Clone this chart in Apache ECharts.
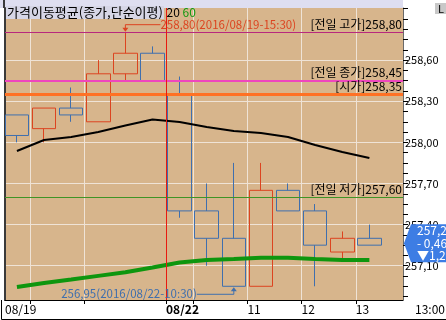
<!DOCTYPE html>
<html><head><meta charset="utf-8">
<script src="https://cdn.jsdelivr.net/npm/echarts@6/dist/echarts.min.js"></script>
<style>html,body{margin:0;padding:0;background:#fff;}#c{width:446px;height:320px;}</style>
</head><body><div id="c"></div>
<script>
// ---- data ----
const year = '2016';
const times = ['08/19 13:30','08/19 14:00','08/19 14:30','08/19 15:00','08/19 15:30','08/19 15:45',
               '08/22 09:30','08/22 10:00','08/22 10:30','08/22 11:00','08/22 11:30','08/22 12:00','08/22 12:30','08/22 13:00'];
const opens  = [258.20,258.10,258.25,258.15,258.50,258.65,258.35,257.50,257.30,256.95,257.65,257.50,257.20,257.30];
const closes = [258.05,258.25,258.20,258.50,258.65,258.45,257.50,257.30,256.95,257.65,257.50,257.25,257.30,257.25];
const lows   = [258.00,258.00,258.15,258.15,258.45,258.45,257.45,257.10,256.95,256.95,257.50,256.95,257.15,257.25];
const highs  = [258.20,258.25,258.40,258.60,258.80,258.70,258.48,257.70,257.85,257.85,257.70,257.55,257.35,257.40];
const ma20   = [257.937,258.017,258.039,258.076,258.123,258.167,258.148,258.112,258.083,258.068,258.039,257.981,257.930,257.886];
const ma60   = [256.945,256.974,256.999,257.026,257.053,257.087,257.124,257.142,257.149,257.158,257.158,257.149,257.142,257.142];
const maPeriods = [20, 60];
const legendTitle = '가격이동평균(종가,단순이평)';
const refNames  = ['전일 고가','전일 종가','시가','전일 저가'];
const refValues = [258.80, 258.45, 258.35, 257.60];
const yTickValues = [257.1, 257.4, 257.7, 258.0, 258.3, 258.6];
const xTickCandles = [1, 3, 6, 7, 9, 11, 13];
const xTickLabels  = ['08/19', '', '08/22', '', '11', '12', '13'];

// ---- styles ----
const FONT = 'Noto Sans CJK KR';
const UP = '#dc4420', DOWN = '#3f6fae';
const refColors = ['#b8287e', '#ef46be', '#ff7124', '#3f9426'];
const refWidths = [1, 2, 3, 1];
const GRID = '#efe3d6';
const X_MIN = -0.44, X_MAX = 14.24, Y_MIN = 256.85, Y_MAX = 258.98;

const fmt = v => v.toFixed(2).replace('.', ',');

// minor y ticks: four steps per labelled interval
const yStep = (yTickValues[1] - yTickValues[0]) / 4;
const yMinor = [];
for (let v = yTickValues[0]; v >= Y_MIN; v -= yStep) yMinor.push(+v.toFixed(4));
for (let v = yTickValues[0] + yStep; v <= Y_MAX; v += yStep) yMinor.push(+v.toFixed(4));

const xTickPos = xTickCandles.map(i => i - 0.5);
const xLabelMap = {};
const xLabelPos = [];
xTickLabels.forEach((t, k) => {
  if (!t) return;
  const p = k === 0 ? X_MIN : xTickPos[k];   // first label pinned to the left edge
  xLabelPos.push(p);
  xLabelMap[p.toFixed(2)] = { text: t, bold: k > 0 && t.indexOf('/') >= 0 };
});
const dayBreak = times.findIndex(t => t.slice(0, 5) !== times[0].slice(0, 5)) - 0.5;

const chart = echarts.init(document.getElementById('c'), null, { renderer: 'canvas' });
const option = {
  animation: false,
  backgroundColor: '#ffffff',
  title: {
    left: 6, top: 5, padding: 0,
    text: '{a|' + legendTitle + '}{b| ' + maPeriods[0] + ' }{c|' + maPeriods[1] + '}',
    textStyle: {
      fontWeight: 'normal', fontSize: 13, fontFamily: FONT,
      rich: {
        a: { fontSize: 13, fontWeight: 'normal', fontFamily: FONT, color: '#000', backgroundColor: '#d6d6e6', lineHeight: 15, padding: [0, 1, 0, 1] },
        b: { fontSize: 12, fontWeight: 'normal', fontFamily: FONT, color: '#000', lineHeight: 15 },
        c: { fontSize: 12, fontWeight: 'normal', fontFamily: FONT, color: '#119911', lineHeight: 15 }
      }
    }
  },
  grid: { left: 5, right: 43, top: 8, bottom: 20, show: true, backgroundColor: '#d7b58c', borderWidth: 0, outerBoundsMode: 'none' },
  xAxis: {
    type: 'value', min: X_MIN, max: X_MAX,
    axisLine: { show: true, onZero: false, lineStyle: { color: '#000', width: 1 } },
    axisTick: { show: true, length: 4, customValues: xTickPos, lineStyle: { color: '#000' } },
    axisLabel: {
      customValues: xLabelPos, align: 'left', margin: 3, fontSize: 12, fontFamily: FONT, color: '#000',
      formatter: v => { const o = xLabelMap[(+v).toFixed(2)]; if (!o) return ''; return o.bold ? '{b|' + o.text + '}' : o.text; },
      rich: { b: { fontWeight: 'bold', fontSize: 12, fontFamily: FONT, color: '#000' } }
    },
    splitLine: { show: true, lineStyle: { color: GRID, width: 1 } },
    name: times[times.length - 1].split(' ')[1], nameLocation: 'end', nameGap: 12,
    nameTextStyle: { fontSize: 12, fontFamily: FONT, color: '#000', align: 'left', verticalAlign: 'top', padding: [3, 0, 0, 0] }
  },
  yAxis: [{
    type: 'value', position: 'right', min: Y_MIN, max: Y_MAX,
    axisLine: { show: true, onZero: false, lineStyle: { color: '#6a6a6a', width: 1 } },
    axisTick: { show: true, length: 5, customValues: yMinor, lineStyle: { color: '#000' } },
    axisLabel: { customValues: yTickValues, formatter: v => fmt(v), fontSize: 11, fontFamily: FONT, color: '#000', margin: 2 },
    splitLine: { show: false }
  }, {
    type: 'value', position: 'left', min: Y_MIN, max: Y_MAX,
    axisLine: { show: true, onZero: false, lineStyle: { color: '#3a3a3a', width: 2 } },
    axisTick: { show: false, customValues: yTickValues },
    axisLabel: { show: false },
    splitLine: { show: true, lineStyle: { color: GRID, width: 1 } }
  }],
  series: [{
    type: 'candlestick', name: 'price', xAxisIndex: 0, yAxisIndex: 0, barWidth: 24,
    dimensions: ['idx', 'open', 'close', 'lowest', 'highest'],
    encode: { x: 'idx', y: ['open', 'close', 'lowest', 'highest'] },
    data: times.map((t, i) => [i, opens[i], closes[i], lows[i], highs[i]]),
    itemStyle: { color: 'rgba(0,0,0,0)', color0: 'rgba(0,0,0,0)', borderColor: UP, borderColor0: DOWN, borderWidth: 1 },
    markLine: {
      silent: true, symbol: ['none', 'none'], animation: false,
      data: refValues.map((v, i) => ({
        yAxis: v,
        lineStyle: { color: refColors[i], width: refWidths[i], type: 'solid' },
        label: { show: true, position: 'insideEndTop', distance: [1, 2], formatter: '[' + refNames[i] + ']' + fmt(v),
                 color: '#000', fontSize: 12, fontFamily: FONT }
      })).concat([{ xAxis: dayBreak, lineStyle: { color: '#e81a10', width: 1, type: 'solid' }, label: { show: false } }])
    }
  }, {
    type: 'line', name: 'MA' + maPeriods[0], data: ma20.map((v, i) => [i, v]), symbol: 'none', silent: true,
    lineStyle: { color: '#000', width: 2 }
  }, {
    type: 'line', name: 'MA' + maPeriods[1], data: ma60.map((v, i) => [i, v]), symbol: 'none', silent: true,
    lineStyle: { color: '#0e960e', width: 4 }
  }]
};
chart.setOption(option);

// ---- annotations placed through the chart's own scales ----
const gx = v => chart.convertToPixel({ xAxisIndex: 0 }, v);
const gy = v => chart.convertToPixel({ yAxisIndex: 0 }, v);
const iMax = highs.indexOf(Math.max.apply(null, highs));
const iMin = lows.indexOf(Math.min.apply(null, lows));
const hx = gx(iMax), hy = gy(highs[iMax]);
const lx = gx(iMin), ly = gy(lows[iMin]);
const xR = gx(X_MAX), yTop = gy(Y_MAX), yBot = gy(Y_MIN);
const lastClose = closes[closes.length - 1];
const prevClose = refValues[1];
const yP = gy(lastClose);
const diff = lastClose - prevClose;
const pct = diff / prevClose * 100;
const tagText = fmt(lastClose) + '\n' + (pct < 0 ? '- ' : '+ ') + fmt(Math.abs(pct)) + '\n' + (diff < 0 ? '▼' : '▲') + fmt(Math.abs(diff));
const annFont = '11.5px "' + FONT + '"';

chart.setOption({
  graphic: [
    { type: 'rect', z: 0, shape: { x: 0, y: 0, width: xR, height: yTop }, style: { fill: '#dedef0' } },
    { type: 'rect', z: 0, shape: { x: 3, y: 0, width: 2, height: yTop }, style: { fill: '#3a3a3a' } },
    { type: 'polyline', z: 50, shape: { points: [[1.5, yBot], [1.5, 319.5], [446, 319.5]] }, style: { stroke: '#000', lineWidth: 1, fill: null } },
    // highest annotation
    { type: 'polyline', z: 50, shape: { points: [[hx + 35, hy - 8], [hx, hy - 8], [hx, hy - 3]] }, style: { stroke: UP, lineWidth: 1, fill: null } },
    { type: 'polygon', z: 50, shape: { points: [[hx - 3, hy - 5], [hx + 3, hy - 5], [hx, hy - 1]] }, style: { fill: UP } },
    { type: 'text', z: 50, x: hx + 35, y: hy - 8, style: { text: fmt(highs[iMax]) + '(' + year + '/' + times[iMax].replace(' ', '-') + ')', fill: UP, font: annFont, align: 'left', verticalAlign: 'middle' } },
    // lowest annotation
    { type: 'polyline', z: 50, shape: { points: [[lx, ly + 3], [lx, ly + 8], [lx - 37, ly + 8]] }, style: { stroke: DOWN, lineWidth: 1, fill: null } },
    { type: 'polygon', z: 50, shape: { points: [[lx - 3, ly + 5], [lx + 3, ly + 5], [lx, ly + 1]] }, style: { fill: DOWN } },
    { type: 'text', z: 50, x: lx - 37, y: ly + 7, style: { text: fmt(lows[iMin]) + '(' + year + '/' + times[iMin].replace(' ', '-') + ')', fill: DOWN, font: annFont, align: 'right', verticalAlign: 'middle' } },
    // current price tag
    { type: 'polygon', z: 60, shape: { points: [[xR + 1, yP - 2], [xR + 8, yP - 21], [446, yP - 21], [446, yP + 17], [xR + 8, yP + 17]] }, style: { fill: '#3d7de4' } },
    { type: 'text', z: 61, x: xR + 14, y: yP - 2, style: { text: tagText, fill: '#fff', font: '12px "' + FONT + '"', lineHeight: 12.5, align: 'left', verticalAlign: 'middle' } },
    // small button glyph at top right
    { type: 'text', z: 61, x: 435, y: 3, style: { text: 'L', fill: '#000', font: '11px "' + FONT + '"', backgroundColor: '#c8c8c8', padding: [0, 3, 0, 3], lineHeight: 11 } }
  ]
});
</script></body></html>
